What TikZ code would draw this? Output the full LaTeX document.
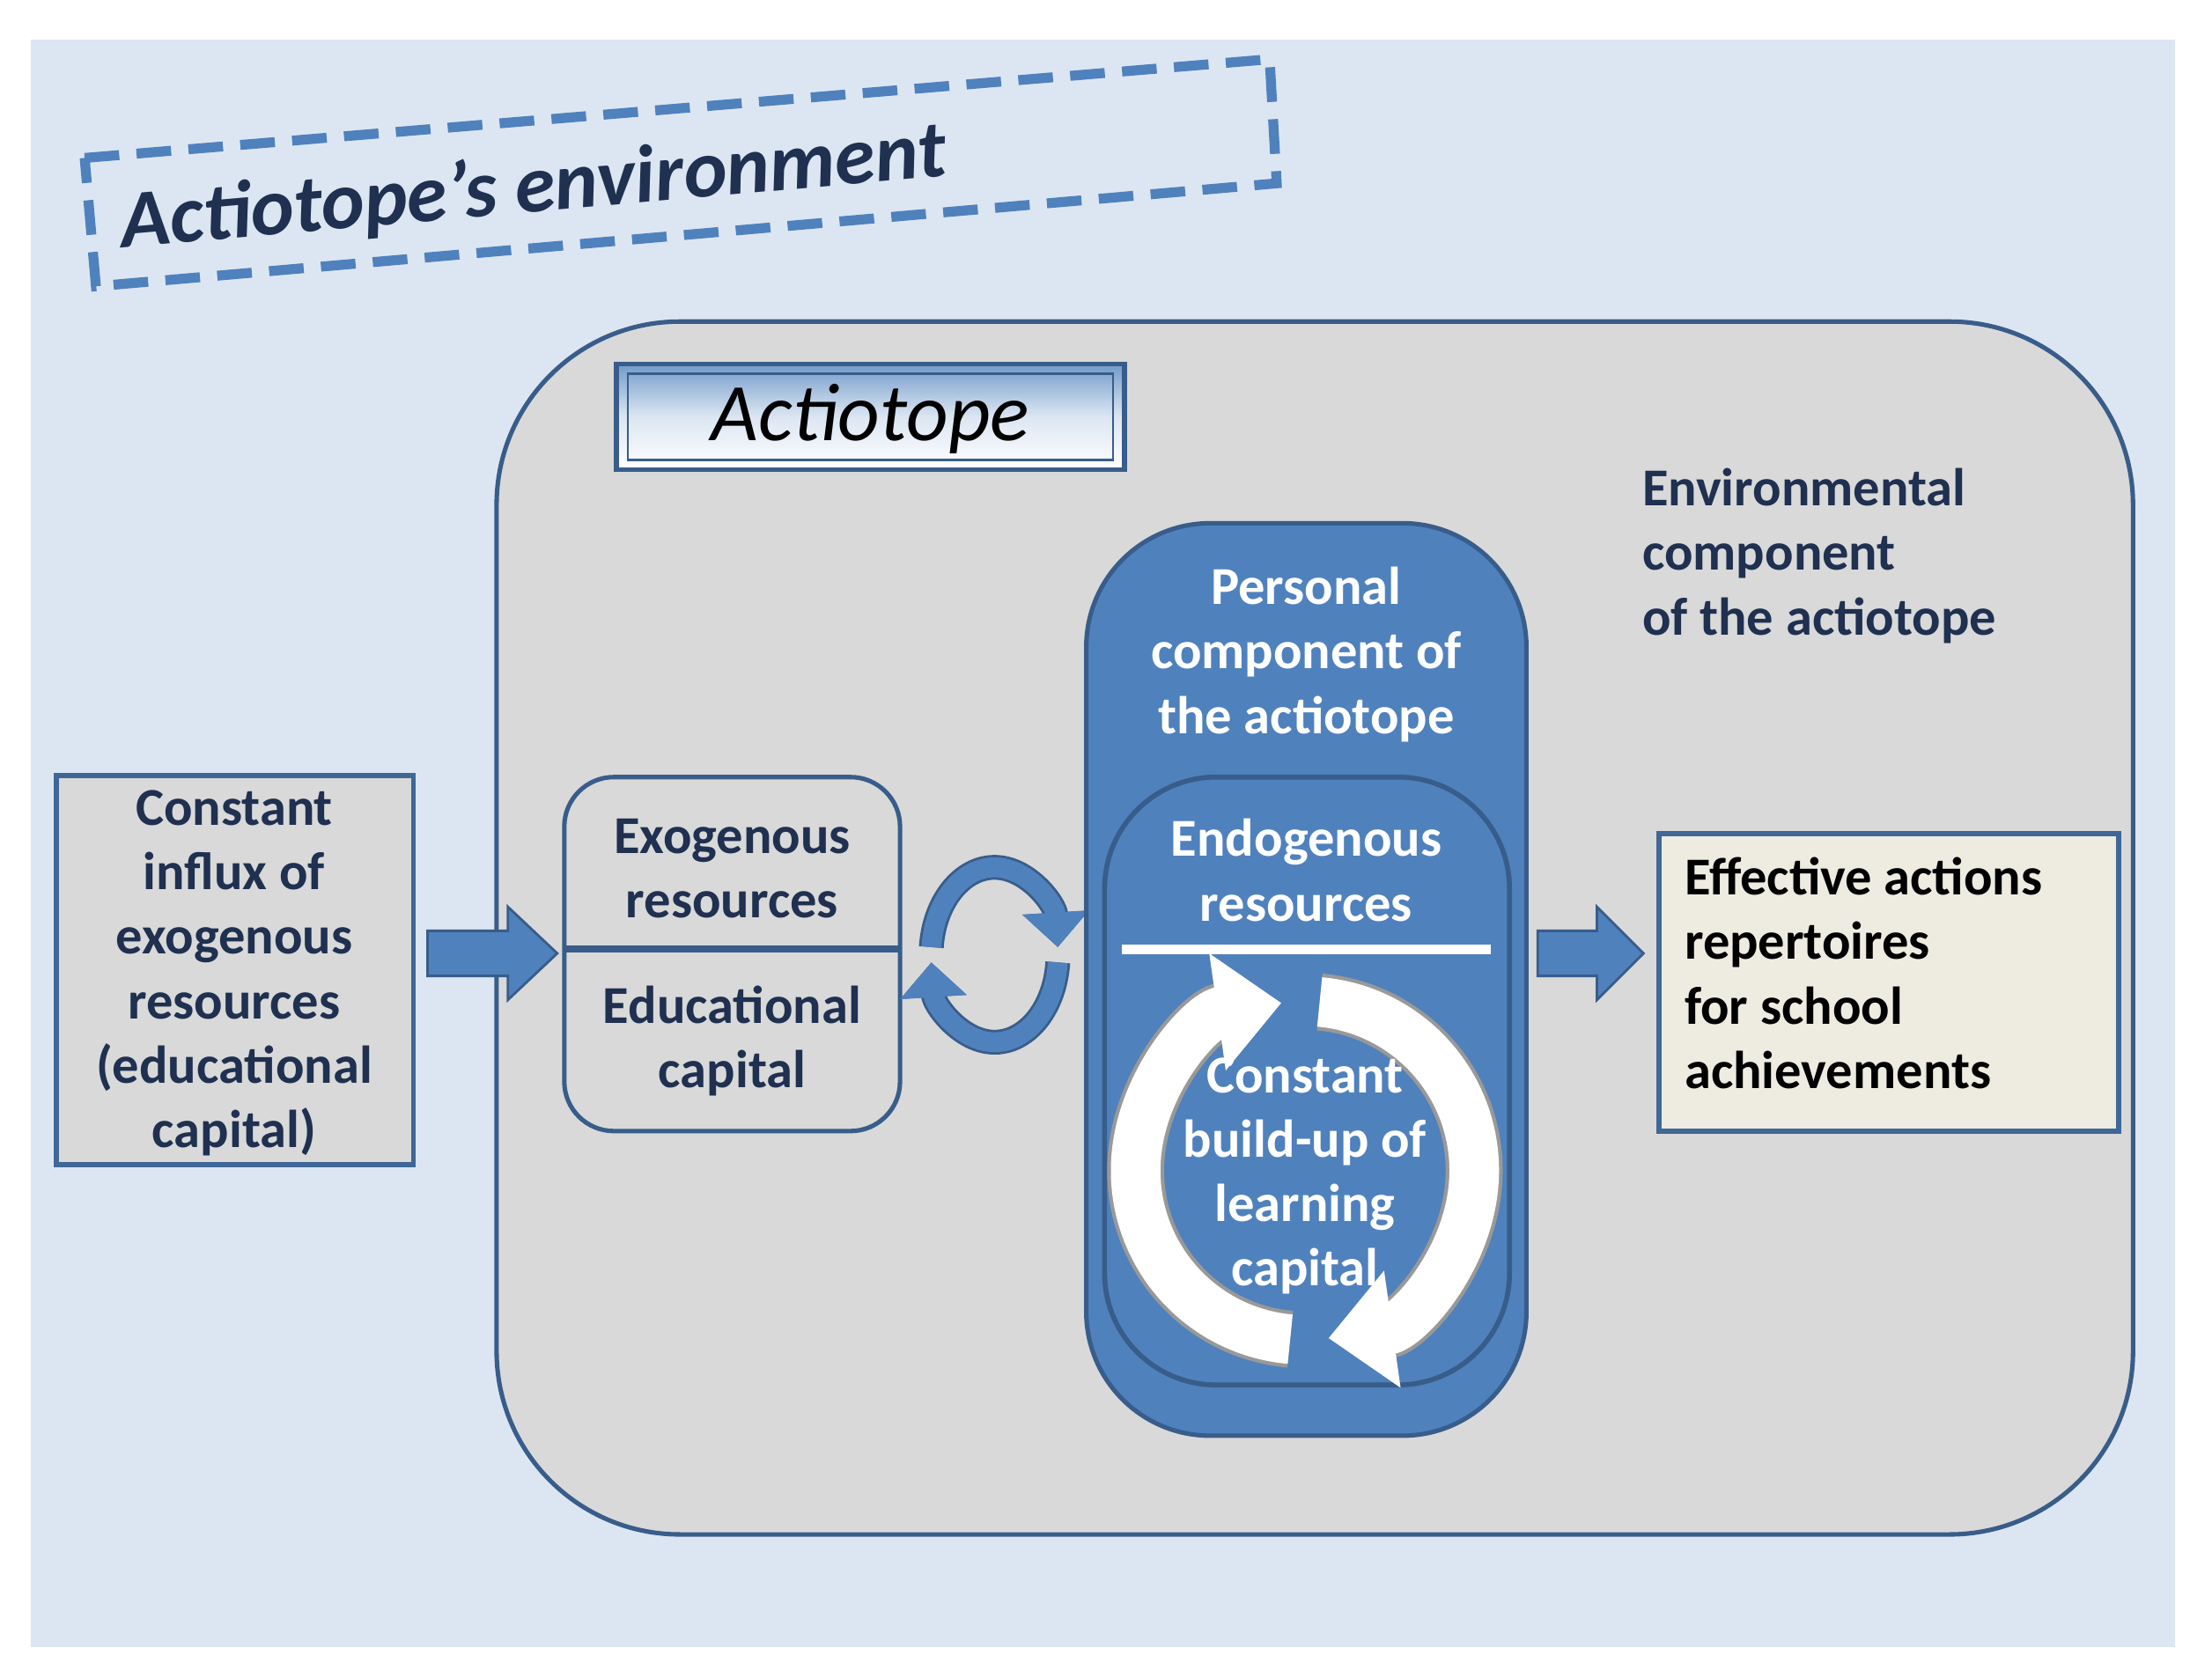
\documentclass[tikz,border=0pt]{standalone}
\usepackage{fontspec}
\setmainfont{Carlito}
\usetikzlibrary{arrows.meta}
\definecolor{bgblue}{HTML}{DCE6F2}
\definecolor{dblue}{HTML}{385D8A}
\definecolor{mblue}{HTML}{4F81BD}
\definecolor{gbox}{HTML}{D9D9D9}
\definecolor{cream}{HTML}{EEECE1}
\definecolor{ttext}{HTML}{1F3050}
\tikzset{
 txt/.style={font=\fontsize{21.5}{26}\selectfont\bfseries, align=center, text=ttext},
 wtxt/.style={font=\fontsize{21.5}{26}\selectfont\bfseries, align=center, text=white},
 barrowsty/.style={fill=mblue, draw=dblue, line width=1pt},
}
\begin{document}
\begin{tikzpicture}[x=0.02cm,y=-0.02cm]
\useasboundingbox (0,0) rectangle (1568,1189);
\fill[white] (0,0) rectangle (1568,1189);
\fill[bgblue] (22,28) rectangle (1542,1168);
% dashed env box
\draw[mblue, line width=4pt, dash pattern=on 14pt off 7pt] (60,112) -- (900,42) -- (905,130) -- (68,203) -- cycle;
\node[rotate=5, font=\fontsize{33}{36}\selectfont\bfseries\itshape, text=ttext] (env) at (378,134) {Actiotope’s environment};
% actiotope big box
\draw[dblue, line width=1.8pt, fill=gbox, rounded corners=2.6cm] (352,228) rectangle (1512,1088);
% title box
\shade[top color=mblue!80, bottom color=white, middle color=bgblue] (437,258) rectangle (797,333);
\draw[dblue, line width=2pt] (437,258) rectangle (797,333);
\draw[dblue, line width=1pt] (445,265) rectangle (789,326);
\node[font=\fontsize{33}{36}\selectfont\itshape, text=black] (act) at (617,297) {Actiotope};
\node[txt, align=left, anchor=north west] (envc) at (1158,326) {Environmental\\component\\of the actiotope};
% left box
\draw[mblue!80!black, line width=2pt, fill=gbox] (40,550) rectangle (293,826);
\node[txt] (infl) at (166,690) {Constant\\influx of\\exogenous\\resources\\(educational\\capital)};
\draw[barrowsty] (303,660) -- (360,660) -- (360,643) -- (395,676) -- (360,709) -- (360,692) -- (303,692) -- cycle;
% exo box
\draw[dblue, line width=1.8pt, fill=gbox, rounded corners=20pt] (400,551) rectangle (638,802);
\draw[dblue, line width=3pt] (400,673) -- (638,673);
\node[txt] (exo) at (519,616) {Exogenous\\resources};
\node[txt] (edu) at (519,738) {Educational\\capital};
% small cycle
\draw[line width=8pt, mblue, preaction={draw=dblue, line width=10pt}, -{Triangle[length=14pt,width=26pt]}] (705,677) ++(185:45 and 62) arc (185:355:45 and 62);
\draw[line width=8pt, mblue, preaction={draw=dblue, line width=10pt}, -{Triangle[length=14pt,width=26pt]}] (705,677) ++(5:45 and 62) arc (5:175:45 and 62);
% personal
\draw[dblue, line width=1.8pt, fill=mblue, rounded corners=50pt] (770,371) rectangle (1082,1018);
\node[wtxt] (pers) at (926,464) {Personal\\component of\\the actiotope};
\draw[dblue, line width=2pt, fill=mblue, rounded corners=45pt] (783,551) rectangle (1070,982);
\node[wtxt] (endo) at (926,617) {Endogenous\\resources};
\draw[white, line width=4pt] (795,673) -- (1057,673);
% big cycle arrows
\draw[white, line width=20pt, preaction={draw=gray!80, line width=23pt}, -{Triangle[length=26pt,width=46pt]}] (925,830) ++(95:120 and 120) arc (95:262:120 and 120);
\draw[white, line width=20pt, preaction={draw=gray!80, line width=23pt}, -{Triangle[length=26pt,width=46pt]}] (925,830) ++(275:120 and 120) arc (275:442:120 and 120);
\node[wtxt] (lc) at (925,834) {Constant\\build-up of\\learning\\capital};
\draw[barrowsty] (1090,660) -- (1132,660) -- (1132,643) -- (1165,676) -- (1132,709) -- (1132,692) -- (1090,692) -- cycle;
\draw[mblue!80!black, line width=2pt, fill=cream] (1176,591) rectangle (1502,802);
\node[font=\fontsize{21.5}{26}\selectfont\bfseries, align=left, anchor=west, text=black] (eff) at (1188,690) {Effective actions\\repertoires\\for school\\achievements};
\end{tikzpicture}
\end{document}
